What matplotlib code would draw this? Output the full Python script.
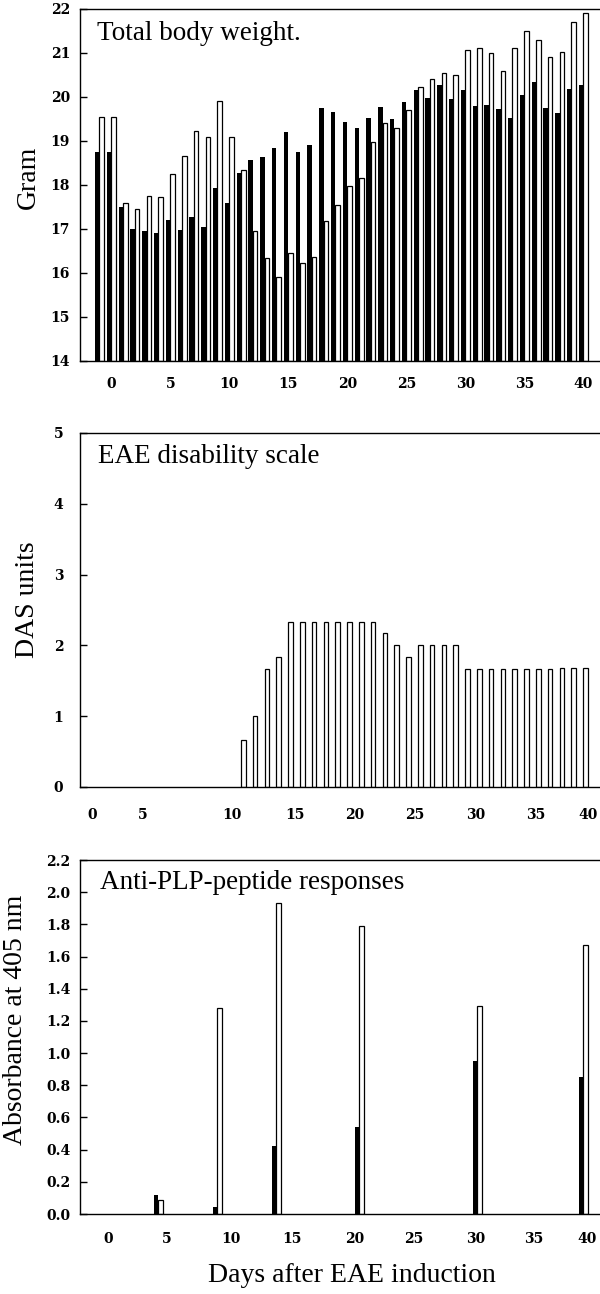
import numpy as np
import matplotlib.pyplot as plt

# body weight, one pair of bars per day (-1 .. 40)
weight_days = list(range(-1, 41))
weight_control = [18.75, 18.75, 17.50, 17.00, 16.95, 16.90, 17.20, 16.98, 17.28, 17.05,
                  17.93, 17.58, 18.27, 18.57, 18.63, 18.83, 19.20, 18.75, 18.90, 19.75,
                  19.67, 19.43, 19.30, 19.52, 19.77, 19.51, 19.89, 20.17, 19.98, 20.27,
                  19.95, 20.15, 19.80, 19.82, 19.73, 19.53, 20.05, 20.35, 19.75, 19.63,
                  20.18, 20.27]
weight_eae = [19.55, 19.55, 17.60, 17.45, 17.75, 17.72, 18.25, 18.65, 19.22, 19.10,
              19.90, 19.10, 18.33, 16.95, 16.35, 15.90, 16.45, 16.23, 16.37, 17.18,
              17.55, 17.97, 18.17, 18.98, 19.41, 19.30, 19.71, 20.22, 20.40, 20.55,
              20.50, 21.07, 21.12, 21.00, 20.60, 21.12, 21.50, 21.30, 20.90, 21.03,
              21.70, 21.90]

# EAE disability scale (only the EAE group scores)
das_days = list(range(11, 41))
das_eae = [0.67, 1.00, 1.67, 1.83, 2.33, 2.33, 2.33, 2.33, 2.33, 2.33,
           2.33, 2.33, 2.17, 2.00, 1.83, 2.00, 2.00, 2.00, 2.00, 1.67,
           1.67, 1.67, 1.67, 1.67, 1.67, 1.67, 1.67, 1.68, 1.68, 1.68]

# anti-PLP-peptide antibody responses
plp_days = [4, 9, 14, 21, 31, 40]
plp_control = [0.12, 0.045, 0.42, 0.54, 0.95, 0.85]
plp_eae = [0.09, 1.28, 1.93, 1.79, 1.29, 1.67]

day_labels = ['0', '5', '10', '15', '20', '25', '30', '35', '40']
top_tick_pos = [0, 5, 10, 15, 20, 25, 30, 35, 40]
mid_tick_pos = [-1.6, 2.7, 10.2, 15.6, 20.6, 25.7, 30.9, 36.0, 40.4]
bot_tick_pos = [-0.3, 4.7, 10.1, 15.3, 20.6, 25.6, 30.9, 35.8, 40.3]

W, H = 600, 1294
fig = plt.figure(figsize=(W / 100, H / 100), dpi=100)

serif = 'Liberation Serif'
tick_font = {'family': 'DejaVu Serif', 'weight': 'bold', 'size': 10}


def axes_px(left, top, bottom):
    return fig.add_axes([left / W, 1 - bottom / H, 1 - left / W, (bottom - top) / H])


def style(ax, ylim, yticks, ylabels, xticks, ypad, xpad):
    ax.set_xlim(-2.65, 41.42)
    ax.set_ylim(*ylim)
    ax.set_yticks(yticks)
    ax.set_yticklabels(ylabels, fontdict=tick_font)
    ax.set_xticks(xticks)
    ax.set_xticklabels(day_labels, fontdict=tick_font)
    ax.tick_params(axis='y', direction='in', length=5, width=1, pad=ypad)
    ax.tick_params(axis='x', length=0, pad=xpad)
    ax.spines['right'].set_visible(False)
    for s in ['left', 'top', 'bottom']:
        ax.spines[s].set_linewidth(1.0)


bw = 0.38
off = 0.19

# --- total body weight
ax1 = axes_px(80, 9, 361)
x = np.array(weight_days)
base = 14
ax1.bar(x - off, np.array(weight_control) - base, bw, bottom=base, color='black')
ax1.bar(x + off, np.array(weight_eae) - base, bw, bottom=base, color='white',
        edgecolor='black', linewidth=0.9)
style(ax1, (14, 22), range(14, 23), [str(v) for v in range(14, 23)],
      top_tick_pos, 7.2, 11.5)
ax1.text(0.033, 0.912, 'Total body weight.', transform=ax1.transAxes,
         family=serif, fontsize=19.5, va='baseline', ha='left')

# --- disability scale
ax2 = axes_px(80, 433, 787)
ax2.bar(np.array(das_days) + off, das_eae, bw, color='white', edgecolor='black', linewidth=0.9)
style(ax2, (0, 5), range(0, 6), [str(v) for v in range(0, 6)],
      mid_tick_pos, 12, 15)
ax2.text(0.034, 0.915, 'EAE disability scale', transform=ax2.transAxes,
         family=serif, fontsize=19.5, va='baseline', ha='left')

# --- anti-PLP responses
ax3 = axes_px(80, 860, 1214)
xp = np.array(plp_days)
ax3.bar(xp - off, plp_control, bw, color='black')
ax3.bar(xp + off, plp_eae, bw, color='white', edgecolor='black', linewidth=0.9)
yt = [0.0, 0.2, 0.4, 0.6, 0.8, 1.0, 1.2, 1.4, 1.6, 1.8, 2.0, 2.2]
style(ax3, (0, 2.2), yt, ['%.1f' % v for v in yt], bot_tick_pos, 7, 13)
ax3.text(0.038, 0.918, 'Anti-PLP-peptide responses', transform=ax3.transAxes,
         family=serif, fontsize=19.5, va='baseline', ha='left')

# axis titles
fig.text(28 / W, 1 - 177 / H, 'Gram', rotation=90, family=serif, fontsize=20,
         ha='center', va='center')
fig.text(28 / W, 1 - 600 / H, 'DAS units', rotation=90, family=serif, fontsize=20,
         ha='center', va='center')
fig.text(16 / W, 1 - 1020 / H, 'Absorbance at 405 nm', rotation=90, family=serif,
         fontsize=20, ha='center', va='center')
fig.text(352 / W, 1 - 1275 / H, 'Days after EAE induction', family=serif, fontsize=20,
         ha='center', va='center')

fig.savefig('out.png', dpi=100)
